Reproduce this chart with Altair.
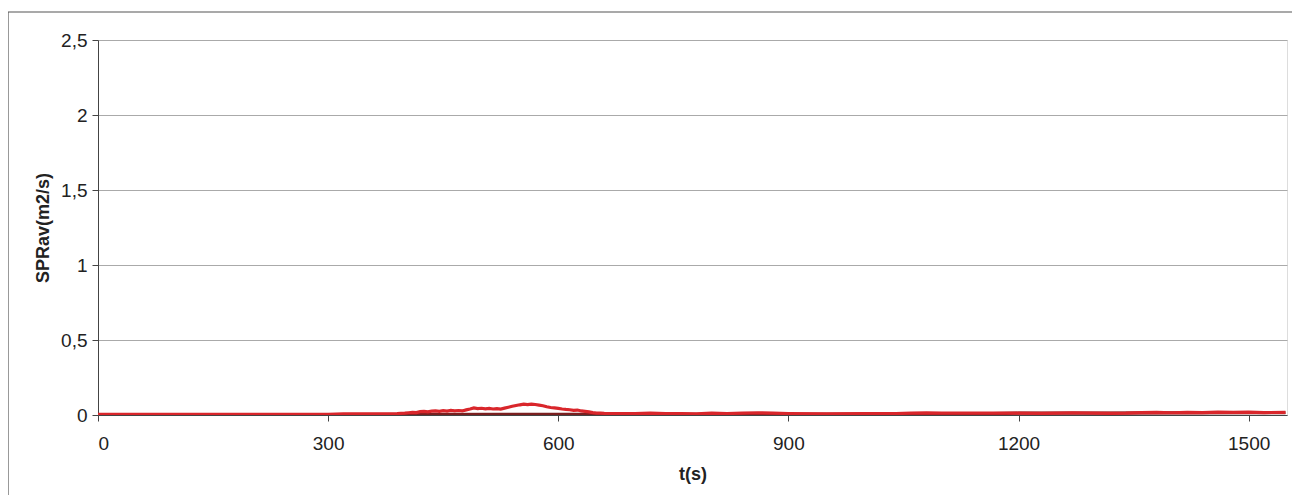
import altair as alt
import pandas as pd

# Red series: time (s) and SPRav (m2/s)
t_red = [0, 100, 200, 300, 320, 360, 390,
         400, 405, 410, 415, 420, 425, 430, 435, 440, 445, 450, 455, 460, 465, 470,
         475, 480, 485, 490, 495, 500, 505, 510, 515, 520, 525, 530, 535, 540, 545,
         550, 555, 560, 565, 570, 575, 580, 585, 590, 595, 600, 605, 610, 615, 620,
         625, 630, 635, 640, 645, 650, 655, 660,
         680, 700, 720, 740, 760, 780, 800, 820, 840, 860, 880, 900, 950,
         1000, 1040, 1060, 1080, 1100, 1150, 1200, 1230, 1250, 1270, 1300, 1320, 1340,
         1360, 1380, 1400, 1420, 1440, 1460, 1480, 1500, 1520, 1548]
v_red = [0.005, 0.005, 0.004, 0.005, 0.007, 0.008, 0.010,
         0.012, 0.015, 0.018, 0.016, 0.022, 0.024, 0.021, 0.026, 0.027, 0.024, 0.029,
         0.026, 0.031, 0.028, 0.030, 0.027, 0.034, 0.040, 0.047, 0.043, 0.045, 0.041,
         0.044, 0.040, 0.043, 0.039, 0.046, 0.052, 0.058, 0.063, 0.068, 0.072, 0.069,
         0.073, 0.070, 0.066, 0.062, 0.055, 0.050, 0.047, 0.044, 0.040, 0.037, 0.035,
         0.031, 0.033, 0.027, 0.024, 0.021, 0.016, 0.013, 0.012, 0.011,
         0.010, 0.010, 0.013, 0.009, 0.010, 0.008, 0.013, 0.010, 0.012, 0.015, 0.012,
         0.010, 0.008, 0.009, 0.009, 0.013, 0.014, 0.012, 0.013, 0.013, 0.011, 0.012,
         0.015, 0.013, 0.011, 0.012, 0.016, 0.018, 0.015, 0.018, 0.016, 0.019, 0.017,
         0.019, 0.016, 0.018]

# Dark red series underneath
t_dark = [0, 300, 600, 900, 1150, 1200, 1300, 1400, 1548]
v_dark = [0.003, 0.003, 0.004, 0.005, 0.008, 0.012, 0.013, 0.014, 0.015]

x_ticks = [0, 300, 600, 900, 1200, 1500]
y_ticks = [0, 0.5, 1, 1.5, 2, 2.5]

df = pd.concat([
    pd.DataFrame({"t": t_dark, "v": v_dark, "s": "dark"}),
    pd.DataFrame({"t": t_red, "v": v_red, "s": "red"}),
])

FONT = "Liberation Sans"

x_enc = alt.X("t:Q", scale=alt.Scale(domain=[0, 1550], nice=False, zero=True),
              axis=alt.Axis(values=x_ticks, title="t(s)", grid=False,
                            labelExpr="toString(datum.value)",
                            labelFontSize=19, titleFontSize=18, titleFontWeight="bold",
                            labelPadding=13, tickSize=6, titlePadding=12,
                            domainColor="#444", tickColor="#444",
                            labelColor="#222", titleColor="#222",
                            labelFont=FONT, titleFont=FONT))
y_enc = alt.Y("v:Q", scale=alt.Scale(domain=[0, 2.5], nice=False),
              axis=alt.Axis(values=y_ticks, title="SPRav(m2/s)", grid=True,
                            gridColor="#aaaaaa", gridWidth=1,
                            labelExpr="replace(toString(datum.value), '.', ',')",
                            labelFontSize=19, titleFontSize=18, titleFontWeight="bold",
                            labelPadding=5, tickSize=6, titlePadding=8,
                            domainColor="#444", tickColor="#444",
                            labelColor="#222", titleColor="#222",
                            labelFont=FONT, titleFont=FONT))

lines = alt.Chart(df).mark_line(strokeWidth=3.2, clip=True).encode(
    x=x_enc, y=y_enc,
    color=alt.Color("s:N", scale=alt.Scale(domain=["dark", "red"],
                                           range=["#7a1f1f", "#d9262b"]), legend=None),
    order=alt.Order("t:Q"),
    detail="s:N",
)

frame_top = alt.Chart(pd.DataFrame({"a": [0]})).mark_rule(color="#555", strokeWidth=1.2).encode(
    x=alt.value(-90), x2=alt.value(1210), y=alt.value(-28))
frame_left = alt.Chart(pd.DataFrame({"a": [0]})).mark_rule(color="#555", strokeWidth=1.2).encode(
    x=alt.value(-90), y=alt.value(-28), y2=alt.value(470))

chart = alt.layer(lines, frame_top, frame_left).properties(
    width=1189, height=375,
    autosize=alt.AutoSizeParams(type="none"),
    padding={"left": 90, "top": 32, "right": 5, "bottom": 80},
).configure_view(stroke="#888888", strokeWidth=1).configure(background="white")

chart.save("out.html", embed_options={"renderer": "svg", "actions": False})
